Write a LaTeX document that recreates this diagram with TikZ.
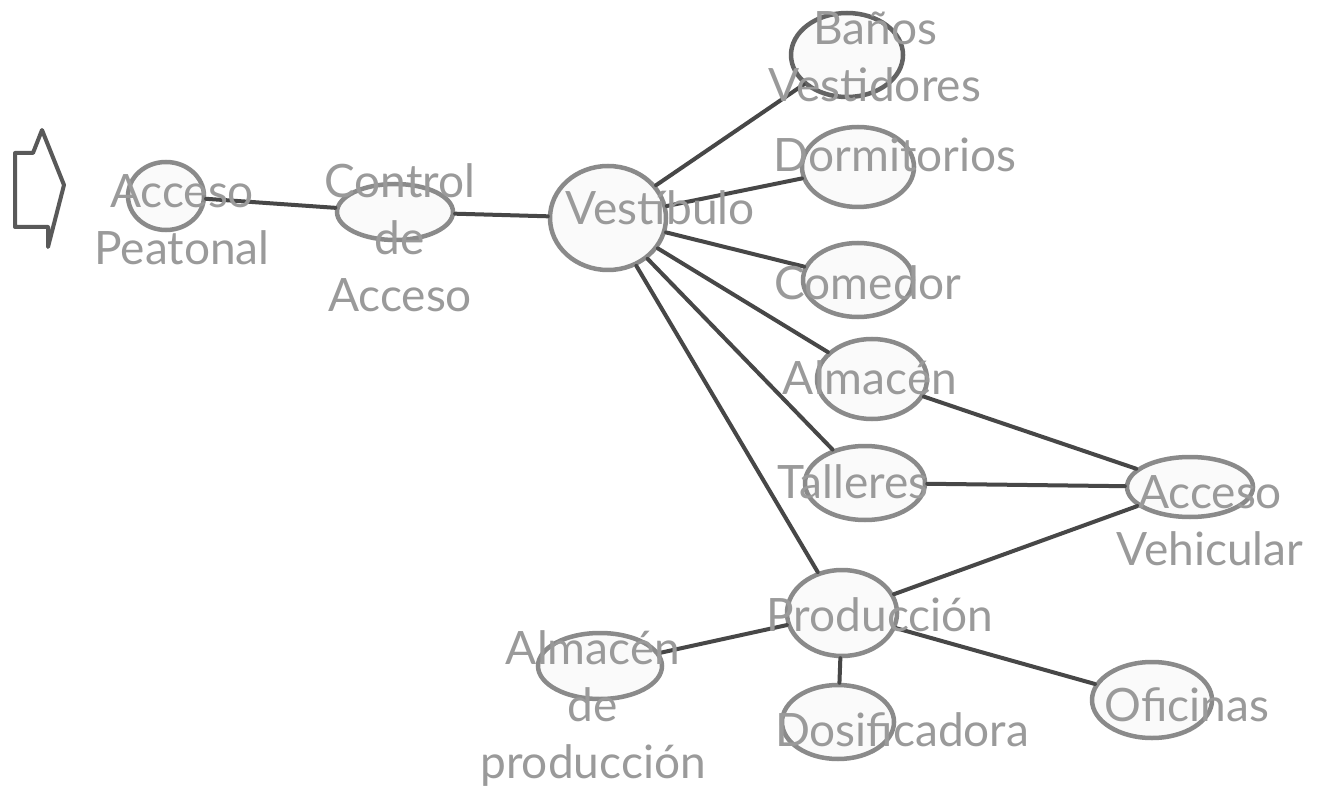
\documentclass[tikz,border=0pt]{standalone}
\usepackage{fontspec}
\setmainfont{Lato}
\usetikzlibrary{shapes.geometric}
\definecolor{pencil}{HTML}{9A9A9A}
\definecolor{lead}{HTML}{474747}
\definecolor{ring}{HTML}{8A8A8A}
\tikzset{
  bub/.style={ellipse, draw=ring, line width=4.5pt, fill=gray!4, inner sep=0pt},
  lbl/.style={text=pencil, font=\fontsize{46}{57}\selectfont, align=center, inner sep=0pt},
  link/.style={draw=lead, line width=4pt, line cap=round},
}
\begin{document}
\begin{tikzpicture}[x=1pt,y=-1pt]
\useasboundingbox (0,0) rectangle (1319,799);
\fill[white] (0,0) rectangle (1319,799);
% entrance arrow
\draw[draw=lead!90, line width=4pt, line join=round]
  (15,153) -- (33,153) -- (42,130) -- (64,185) -- (48,247) -- (48,227) -- (15,227) -- cycle;
% bubbles
\node[bub, minimum width=76, minimum height=68] (ap) at (166,196) {};
\node[bub, minimum width=116, minimum height=56] (ca) at (395,212) {};
\node[bub, minimum width=116, minimum height=104] (ve) at (608,218) {};
\node[bub, minimum width=112, minimum height=84, draw=lead!85] (bv) at (847,55) {};
\node[bub, minimum width=112, minimum height=80] (do) at (858,167) {};
\node[bub, minimum width=110, minimum height=74] (co) at (858,280) {};
\node[bub, minimum width=110, minimum height=80] (al) at (872,379) {};
\node[bub, minimum width=120, minimum height=74] (ta) at (865,483) {};
\node[bub, minimum width=126, minimum height=60] (av) at (1190,487) {};
\node[bub, minimum width=110, minimum height=86] (pr) at (842,613) {};
\node[bub, minimum width=124, minimum height=66] (ad) at (600,666) {};
\node[bub, minimum width=112, minimum height=74] (ds) at (838,722) {};
\node[bub, minimum width=120, minimum height=76] (of) at (1152,700) {};
% connectors
\draw[link] (ap) -- (ca);
\draw[link] (ca) -- (ve);
\draw[link] (ve) -- (bv);
\draw[link] (ve) -- (do);
\draw[link] (ve) -- (co);
\draw[link] (ve) -- (al);
\draw[link] (ve) -- (ta);
\draw[link] (ve) -- (pr);
\draw[link] (al) -- (av);
\draw[link] (ta) -- (av);
\draw[link] (pr) -- (av);
\draw[link] (pr) -- (ad);
\draw[link] (pr) -- (ds);
\draw[link] (pr) -- (of);
% labels
\node[lbl] (tap) at (182,220) {Acceso\\Peatonal};
\node[lbl] (tca) at (400,238) {Control\\de\\Acceso};
\node[lbl] (tve) at (660,208) {Vestíbulo};
\node[lbl] (tbv) at (875,57) {Baños\\Vestidores};
\node[lbl] (tdo) at (895,155) {Dormitorios};
\node[lbl] (tco) at (868,283) {Comedor};
\node[lbl] (tal) at (870,378) {Almacén};
\node[lbl] (tta) at (853,482) {Talleres};
\node[lbl] (tav) at (1210,521) {Acceso\\Vehicular};
\node[lbl] (tpr) at (880,615) {Producción};
\node[lbl] (tad) at (593,708) {Almacén\\de\\producción};
\node[lbl] (tds) at (902,730) {Dosificadora};
\node[lbl] (tof) at (1187,705) {Oficinas};
\end{tikzpicture}
\end{document}
